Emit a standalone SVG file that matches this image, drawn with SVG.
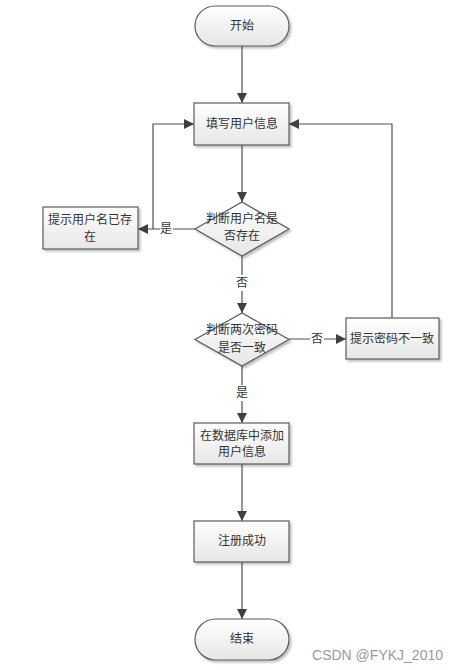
<svg xmlns="http://www.w3.org/2000/svg" width="459" height="670" viewBox="0 0 459 670">
<defs>
<linearGradient id="g" x1="0" y1="0" x2="0" y2="1"><stop offset="0" stop-color="#ffffff"/><stop offset="1" stop-color="#e6e6e6"/></linearGradient>
<marker id="ah" viewBox="0 0 10 10" refX="10" refY="5" markerWidth="10" markerHeight="10" markerUnits="userSpaceOnUse" orient="auto"><path d="M0,0 L10,5 L0,10 Z" fill="#404040"/></marker>
<filter id="sh" x="-10%" y="-10%" width="130%" height="140%"><feDropShadow dx="2" dy="2" stdDeviation="1" flood-color="#000" flood-opacity="0.25"/></filter>
</defs>
<style>
.n{fill:url(#g);stroke:#5a5a5a;stroke-width:1.2;filter:url(#sh)}
.t{font-family:"Liberation Serif","Noto Sans CJK SC",serif;font-size:12px;fill:#333;text-anchor:middle;dominant-baseline:central}
.c{fill:none;stroke:#505050;stroke-width:1.2;marker-end:url(#ah)}
.l{fill:none;stroke:#505050;stroke-width:1.2}
.lb{fill:#fff}
</style>
<rect width="459" height="670" fill="#fff"/>
<g id="connectors">
<path class="c" d="M242,46 V103"/>
<path class="c" d="M242,145 V202"/>
<path class="c" d="M195,229 H138"/>
<path class="c" d="M153,229 V124 H194"/>
<path class="c" d="M242,256 V313"/>
<path class="c" d="M289,339 H346"/>
<path class="c" d="M392,318 V124 H289"/>
<path class="c" d="M242,366 V423"/>
<path class="c" d="M242,464 V521"/>
<path class="c" d="M242,562 V619"/>
<rect class="lb" x="160" y="221" width="13" height="16"/>
<text class="t" x="166" y="229">是</text>
<rect class="lb" x="235" y="275" width="14" height="16"/>
<text class="t" x="242" y="283">否</text>
<rect class="lb" x="310" y="331" width="14" height="16"/>
<text class="t" x="317" y="339">否</text>
<rect class="lb" x="235" y="385" width="14" height="16"/>
<text class="t" x="242" y="393">是</text>
</g>
<g id="start"><rect class="n" x="195" y="6" width="94" height="40" rx="20"/><text class="t" x="242" y="26">开始</text></g>
<g id="fill"><rect class="n" x="194" y="103" width="95" height="42"/><text class="t" x="242" y="124">填写用户信息</text></g>
<g id="check-name"><path class="n" d="M242,202 L289,229 L242,256 L195,229 Z"/><text class="t" x="242" y="219">判断用户名是</text><text class="t" x="242" y="236">否存在</text></g>
<g id="name-exists"><rect class="n" x="43" y="207" width="95" height="42"/><text class="t" x="90" y="220">提示用户名已存</text><text class="t" x="90" y="237">在</text></g>
<g id="check-pwd"><path class="n" d="M242,313 L289,339.5 L242,366 L195,339.5 Z"/><text class="t" x="242" y="330">判断两次密码</text><text class="t" x="242" y="348">是否一致</text></g>
<g id="pwd-mismatch"><rect class="n" x="346" y="318" width="93" height="41"/><text class="t" x="392" y="339">提示密码不一致</text></g>
<g id="add-db"><rect class="n" x="194" y="423" width="95" height="41"/><text class="t" x="242" y="436">在数据库中添加</text><text class="t" x="242" y="452">用户信息</text></g>
<g id="success"><rect class="n" x="194" y="521" width="95" height="41"/><text class="t" x="242" y="541">注册成功</text></g>
<g id="end"><rect class="n" x="195" y="619" width="94" height="41" rx="20.5"/><text class="t" x="242" y="639">结束</text></g>
<text x="443" y="660" font-family="Liberation Sans,Arial,sans-serif" font-size="14" fill="#9a9a9a" text-anchor="end">CSDN @FYKJ_2010</text>
</svg>
